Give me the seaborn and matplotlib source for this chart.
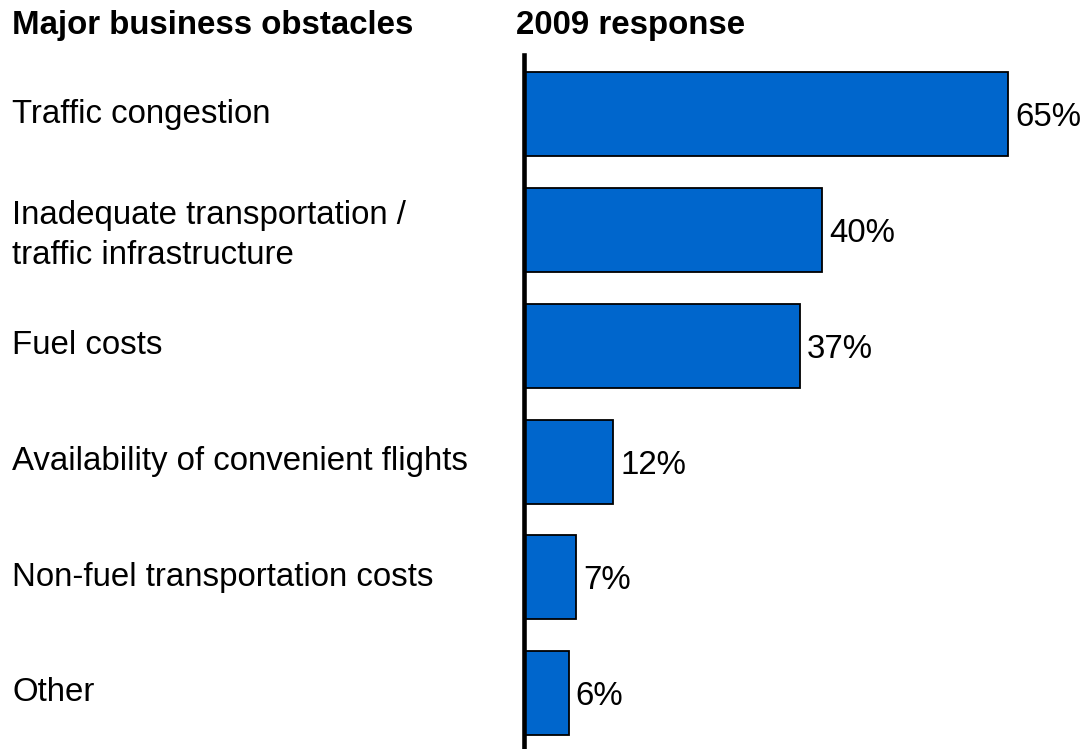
import matplotlib
matplotlib.use("Agg")
import matplotlib.pyplot as plt
import seaborn as sns
import pandas as pd

categories = [
    "Traffic congestion",
    "Inadequate transportation /\ntraffic infrastructure",
    "Fuel costs",
    "Availability of convenient flights",
    "Non-fuel transportation costs",
    "Other",
]
responses = [65, 40, 37, 12, 7, 6]
value_labels = ["65%", "40%", "37%", "12%", "7%", "6%"]
header_left = "Major business obstacles"
header_right = "2009 response"

sns.set_theme(style="white")
plt.rcParams["font.family"] = ["Liberation Sans", "DejaVu Sans"]

W, H, DPI = 1087, 749, 100
fig = plt.figure(figsize=(W / DPI, H / DPI), dpi=DPI)

# axes: value 0 sits on the vertical rule, bars span down to the bottom edge
ax_left, ax_right = 524 / W, 1083 / W
ax_bottom, ax_top = 0.0, 1 - 55 / H
ax = fig.add_axes([ax_left, ax_bottom, ax_right - ax_left, ax_top - ax_bottom])

df = pd.DataFrame({"category": categories, "response": responses})
sns.barplot(data=df, x="response", y="category", orient="h", ax=ax,
            color="#0066CC", saturation=1, width=0.726,
            edgecolor="black", linewidth=1.3)

ax.set_xlim(0, 75)
ax.set_ylim(5.484, -0.514)
ax.set_xlabel("")
ax.set_ylabel("")
ax.set_xticks([])
ax.set_yticks([])
for side in ("top", "right", "bottom"):
    ax.spines[side].set_visible(False)
ax.spines["left"].set_linewidth(3.3)
ax.spines["left"].set_color("black")
ax.spines["left"].set_zorder(5)

fs = 23.8

# value labels just past each bar end
for i, (v, lab) in enumerate(zip(responses, value_labels)):
    ax.annotate(lab, xy=(v, i), xytext=(5, -2.5), textcoords="offset points",
                ha="left", va="center", fontsize=fs, color="black",
                annotation_clip=False)

# category labels, left-aligned at the figure's left margin
for i, cat in enumerate(categories):
    two_line = "\n" in cat
    ax.annotate(cat, xy=(0, i), xycoords=("figure pixels", "data"),
                xytext=(12 * 72 / DPI, -4 if two_line else 0),
                textcoords="offset points", ha="left", va="center",
                fontsize=fs, color="black", linespacing=1.37,
                annotation_clip=False)

# column headers
fig.text(12 / W, 1 - 34 / H, header_left, ha="left", va="baseline",
         fontsize=fs, fontweight="bold", color="black")
fig.text(516 / W, 1 - 34 / H, header_right, ha="left", va="baseline",
         fontsize=fs, fontweight="bold", color="black")

fig.savefig("out.png", dpi=DPI)
